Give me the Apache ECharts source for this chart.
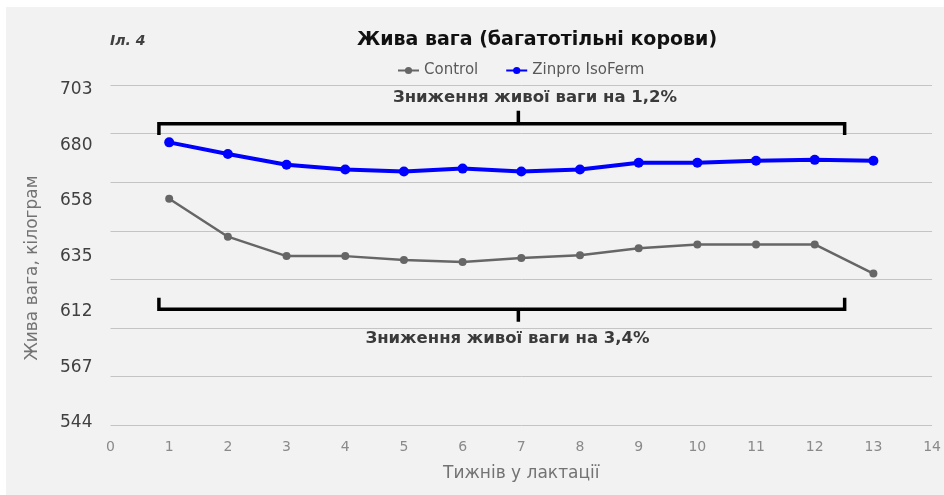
<!DOCTYPE html>
<html>
<head>
<meta charset="utf-8">
<script src="https://cdn.jsdelivr.net/npm/echarts@6/dist/echarts.min.js"></script>
<style>
  html, body { margin: 0; padding: 0; background: #ffffff; }
  #chart { width: 944px; height: 495px; }
</style>
</head>
<body>
<div id="chart"></div>
<script>
// тижні лактації
const weeks = [1, 2, 3, 4, 5, 6, 7, 8, 9, 10, 11, 12, 13]
// значення в шкалі сітки (фунти), підписи осі - кілограми
const controlValues = [1433, 1394, 1374, 1374, 1370, 1368, 1372, 1375, 1382, 1386, 1386, 1386, 1356]
const isoFermValues = [1491, 1479, 1468, 1463, 1461, 1464, 1461, 1463, 1470, 1470, 1472, 1473, 1472]
// підписи осі Y знизу догори
const yTickLabels = ['544', '567', '612', '635', '658', '680', '703']
const seriesNames = ['Control', 'Zinpro IsoFerm']

const FONT = '"DejaVu Sans", sans-serif'

const chart = echarts.init(document.getElementById('chart'))

const toPairs = (vals) => vals.map((v, i) => [weeks[i], v])

chart.setOption({
  backgroundColor: '#f2f2f2',
  animation: false,
  textStyle: { fontFamily: FONT },
  legend: {
    data: seriesNames,
    left: 392,
    top: 58,
    itemWidth: 21,
    itemHeight: 9,
    itemGap: 27,
    textStyle: { color: '#595959', fontSize: 15, fontFamily: FONT },
  },
  grid: [
    { left: 110.5, width: 824, top: 85, height: 340.3 },
    { left: 110.5, width: 824, top: 90, height: 332.7 },
  ],
  xAxis: [
    {
      gridIndex: 0,
      type: 'value',
      min: 0,
      max: 14,
      interval: 1,
      name: 'Тижнів у лактації',
      nameLocation: 'middle',
      nameGap: 40,
      nameTextStyle: { color: '#737373', fontSize: 17, fontFamily: FONT, verticalAlign: 'top' },
      axisLine: { show: false },
      axisTick: { show: false },
      splitLine: { show: false },
      axisLabel: { color: '#8a8a8a', fontSize: 14, margin: 15, fontFamily: FONT },
    },
    {
      gridIndex: 1,
      type: 'value',
      min: 0,
      max: 14,
      show: false,
    },
  ],
  yAxis: [
    {
      gridIndex: 0,
      type: 'value',
      min: 1200,
      max: 1550,
      interval: 50,
      axisLine: { show: false },
      axisTick: { show: false },
      axisLabel: { show: false },
      splitLine: { lineStyle: { color: '#c4c4c4', width: 1 } },
    },
    {
      gridIndex: 1,
      type: 'category',
      data: yTickLabels,
      boundaryGap: false,
      axisLine: { show: false },
      axisTick: { show: false },
      splitLine: { show: false },
      axisLabel: { color: '#404040', fontSize: 17, margin: 18, fontFamily: FONT },
    },
  ],
  series: [
    {
      name: 'Control',
      type: 'line',
      data: toPairs(controlValues),
      symbol: 'circle',
      symbolSize: 8,
      color: '#666666',
      lineStyle: { width: 2.5, color: '#666666' },
      z: 3,
    },
    {
      name: 'Zinpro IsoFerm',
      type: 'line',
      data: toPairs(isoFermValues),
      symbol: 'circle',
      symbolSize: 10,
      color: '#0000ff',
      lineStyle: { width: 4, color: '#0000ff' },
      z: 4,
    },
    // верхня дужка
    {
      type: 'line',
      silent: true,
      symbol: 'none',
      data: [[0.825, 1498.5], [0.825, 1510.2], [12.51, 1510.2], [12.51, 1498.5]],
      lineStyle: { color: '#000000', width: 3.5, join: 'miter' },
      z: 5,
    },
    {
      type: 'line',
      silent: true,
      symbol: 'none',
      data: [[6.95, 1510.2], [6.95, 1523.5]],
      lineStyle: { color: '#000000', width: 3.5 },
      z: 5,
    },
    // нижня дужка
    {
      type: 'line',
      silent: true,
      symbol: 'none',
      data: [[0.825, 1331.2], [0.825, 1319.4], [12.51, 1319.4], [12.51, 1331.2]],
      lineStyle: { color: '#000000', width: 3.5, join: 'miter' },
      z: 5,
    },
    {
      type: 'line',
      silent: true,
      symbol: 'none',
      data: [[6.95, 1319.4], [6.95, 1306.6]],
      lineStyle: { color: '#000000', width: 3.5 },
      z: 5,
    },
  ],
  graphic: [
    { type: 'rect', left: 0, top: 0, shape: { width: 944, height: 7 }, style: { fill: '#ffffff' }, silent: true },
    { type: 'rect', left: 0, top: 0, shape: { width: 6, height: 495 }, style: { fill: '#ffffff' }, silent: true },
    {
      type: 'text', x: 110, y: 41,
      style: { text: 'Іл. 4', font: 'italic bold 14px ' + FONT, fill: '#404040', verticalAlign: 'middle' },
    },
    {
      type: 'text', x: 537, y: 40,
      style: { text: 'Жива вага (багатотільні корови)', font: 'bold 19px ' + FONT, fill: '#111111', align: 'center', verticalAlign: 'middle' },
    },
    {
      type: 'text', x: 535, y: 98,
      style: { text: 'Зниження живої ваги на 1,2%', font: 'bold 16.5px ' + FONT, fill: '#3a3a3a', align: 'center', verticalAlign: 'middle' },
    },
    {
      type: 'text', x: 507.5, y: 339,
      style: { text: 'Зниження живої ваги на 3,4%', font: 'bold 16.5px ' + FONT, fill: '#3a3a3a', align: 'center', verticalAlign: 'middle' },
    },
    {
      type: 'text', x: 33, y: 268, rotation: Math.PI / 2,
      style: { text: 'Жива вага, кілограм', font: '17px ' + FONT, fill: '#737373', align: 'center', verticalAlign: 'middle' },
    },
  ],
})
</script>
</body>
</html>
